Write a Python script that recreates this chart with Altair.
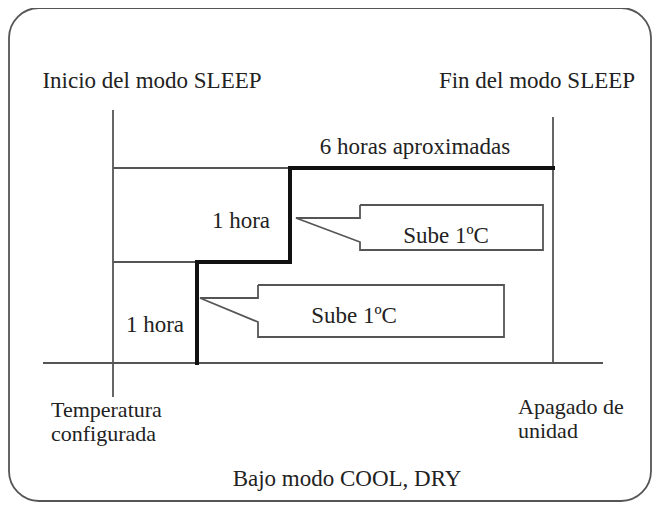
import altair as alt
import pandas as pd

# Diagram coordinates (units of the reference drawing, y grows downward)
W, H = 644, 494
X_DOMAIN = [8, 652]
Y_DOMAIN = [8, 502]

# Thin guide lines: start / end points
guide_x1 = [113, 553, 43, 113, 113]
guide_y1 = [110, 117, 363, 168, 262]
guide_x2 = [113, 553, 603, 290, 197]
guide_y2 = [397, 363, 363, 168, 262]

# Thick step profile of the set temperature during SLEEP mode
step_x = [197, 197, 290, 290, 553]
step_y = [363, 262, 262, 168, 168]

# Call-out outlines ("Sube 1ºC" boxes with pointer)
callout1_x = [360, 543, 543, 360, 360, 296, 360, 360]
callout1_y = [205, 205, 250, 250, 242, 218, 218, 205]
callout2_x = [258, 504, 504, 258, 258, 200, 258, 258]
callout2_y = [285, 285, 337, 337, 322, 298, 298, 285]

# Outer rounded frame
frame_x = [9]
frame_x2 = [651]
frame_y = [8]
frame_y2 = [501]

# Centered labels
label_text = ["Inicio del modo SLEEP", "Fin del modo SLEEP", "6 horas aproximadas",
              "1 hora", "Sube 1ºC", "1 hora", "Sube 1ºC", "Bajo modo COOL, DRY"]
label_x = [152, 537, 415, 241, 446, 155, 354, 347]
label_y = [88, 88, 154, 228, 243, 332, 323, 486]

# Left-aligned two-line labels
block_text = ["Temperatura", "configurada", "Apagado de", "unidad"]
block_x = [51, 51, 518, 518]
block_y = [417, 441, 414, 438]

xs = alt.Scale(domain=X_DOMAIN, nice=False, zero=False)
ys = alt.Scale(domain=Y_DOMAIN, nice=False, zero=False, reverse=True)
FONT = "'Liberation Serif', 'Times New Roman', Times, serif"

frame_df = pd.DataFrame({"x": frame_x, "x2": frame_x2, "y": frame_y, "y2": frame_y2})
frame = alt.Chart(frame_df).mark_rect(
    fill=None, filled=False, stroke="#555555", strokeWidth=1.8, cornerRadius=30
).encode(
    x=alt.X("x:Q", scale=xs, axis=None), x2="x2:Q",
    y=alt.Y("y:Q", scale=ys, axis=None), y2="y2:Q",
)

guides_df = pd.DataFrame({"x": guide_x1, "y": guide_y1, "x2": guide_x2, "y2": guide_y2})
guides = alt.Chart(guides_df).mark_rule(color="#555555", strokeWidth=1.8).encode(
    x=alt.X("x:Q", scale=xs, axis=None), x2="x2:Q",
    y=alt.Y("y:Q", scale=ys, axis=None), y2="y2:Q",
)

step_df = pd.DataFrame({"x": step_x, "y": step_y, "o": list(range(len(step_x)))})
step = alt.Chart(step_df).mark_line(color="#111111", strokeWidth=4, strokeJoin="miter", strokeCap="square").encode(
    x=alt.X("x:Q", scale=xs, axis=None),
    y=alt.Y("y:Q", scale=ys, axis=None),
    order="o:Q",
)

call_rows = []
for gid, (cx, cy) in enumerate([(callout1_x, callout1_y), (callout2_x, callout2_y)]):
    for i, (a, b) in enumerate(zip(cx, cy)):
        call_rows.append({"g": gid, "o": i, "x": a, "y": b})
call_df = pd.DataFrame(call_rows)
callouts = alt.Chart(call_df).mark_line(color="#555555", strokeWidth=1.8, strokeJoin="miter").encode(
    x=alt.X("x:Q", scale=xs, axis=None),
    y=alt.Y("y:Q", scale=ys, axis=None),
    detail="g:N",
    order="o:Q",
)

label_df = pd.DataFrame({"t": label_text, "x": label_x, "y": label_y})
labels = alt.Chart(label_df).mark_text(
    font=FONT, fontSize=23, color="#222222", align="center", baseline="alphabetic"
).encode(
    x=alt.X("x:Q", scale=xs, axis=None),
    y=alt.Y("y:Q", scale=ys, axis=None),
    text="t:N",
)

block_df = pd.DataFrame({"t": block_text, "x": block_x, "y": block_y})
blocks = alt.Chart(block_df).mark_text(
    font=FONT, fontSize=22, color="#222222", align="left", baseline="alphabetic"
).encode(
    x=alt.X("x:Q", scale=xs, axis=None),
    y=alt.Y("y:Q", scale=ys, axis=None),
    text="t:N",
)

chart = alt.layer(frame, guides, step, callouts, labels, blocks).properties(
    width=W, height=H, padding=0, autosize=alt.AutoSizeParams(type="none"),
    background="white",
).configure_view(stroke=None)

chart.save("out.html", embed_options={"renderer": "svg", "actions": False})
